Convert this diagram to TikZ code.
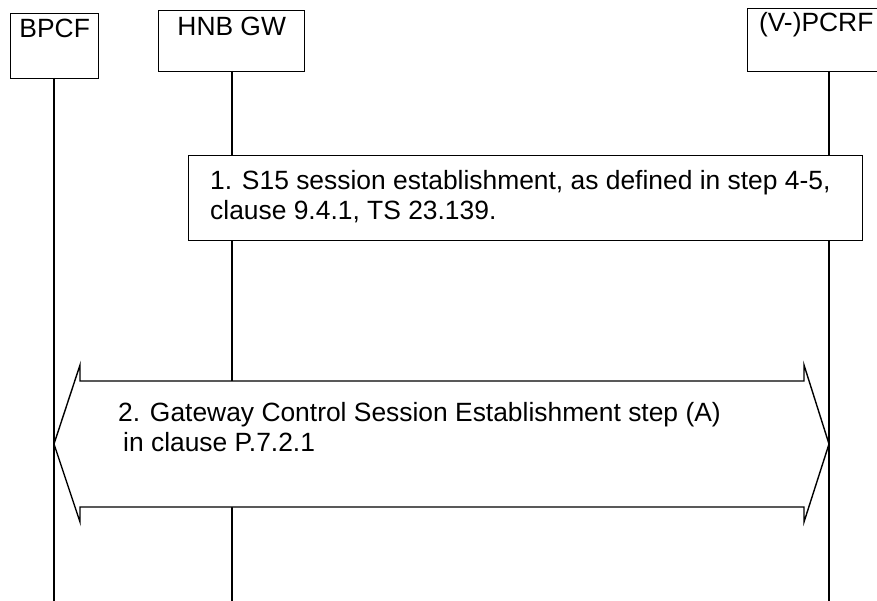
\documentclass[tikz,border=0pt]{standalone}
\usepackage{fontspec}
\setmainfont{Liberation Sans}
\tikzset{
  ent/.style={draw, line width=1.4pt, inner xsep=0pt, inner ysep=0pt, anchor=north west},
  life/.style={line width=1.4pt},
  stepbox/.style={draw, fill=white, line width=1.4pt, anchor=north west, inner sep=0pt},
  txt/.style={inner sep=0pt, align=left, anchor=base west, font=\fontsize{26.4}{30}\selectfont},
  arrowshape/.style={draw, fill=white, line width=1.4pt, line join=miter}
}
\begin{document}
\begin{tikzpicture}[x=1pt, y=-1pt, font=\fontsize{26.4}{30}\selectfont]
\clip (0,0) rectangle (877,601);
\fill[white] (0,0) rectangle (877,601);
% entity boxes
\node[ent, minimum width=88pt, text height=24pt, text depth=41pt] (bpcf) at (10,13) {BPCF};
\node[ent, minimum width=146pt, text height=25pt, text depth=36pt] (hnb) at (158,10) {HNB GW};
\node[ent, minimum width=137pt, text height=23pt, text depth=40pt] (pcrf) at (747,8) {(V-)PCRF};
% lifeline anchors
\coordinate (bpcfT) at (54,78);
\coordinate (bpcfB) at (54,601);
\coordinate (hnbT) at (232,71);
\coordinate (hnbB) at (232,601);
\coordinate (pcrfT) at (829,71);
\coordinate (pcrfB) at (829,601);
\draw[life] (bpcfT) -- (bpcfB);
\draw[life] (hnbT) -- (hnbB);
\draw[life] (pcrfT) -- (pcrfB);
% step 1
\node[stepbox, minimum width=674pt, minimum height=85pt] (s1) at (188,155) {};
\node[txt] (s1t) at (210,220) {1. S15 session establishment, as defined in step 4-5,\\clause 9.4.1, TS 23.139.};
% step 2 double arrow
\coordinate (tl) at (bpcfT |- 0,444);
\coordinate (tr) at (pcrfT |- 0,444);
\draw[arrowshape] (tl) -- (80,365) -- (80,381) -- (804,381) -- (804,365) -- (tr)
  -- (804,522) -- (804,507) -- (80,507) -- (80,522) -- cycle;
\node[txt] (s2t) at (118,451) {2. Gateway Control Session Establishment step (A)\\\hspace*{5pt}in clause P.7.2.1};
\end{tikzpicture}
\end{document}
